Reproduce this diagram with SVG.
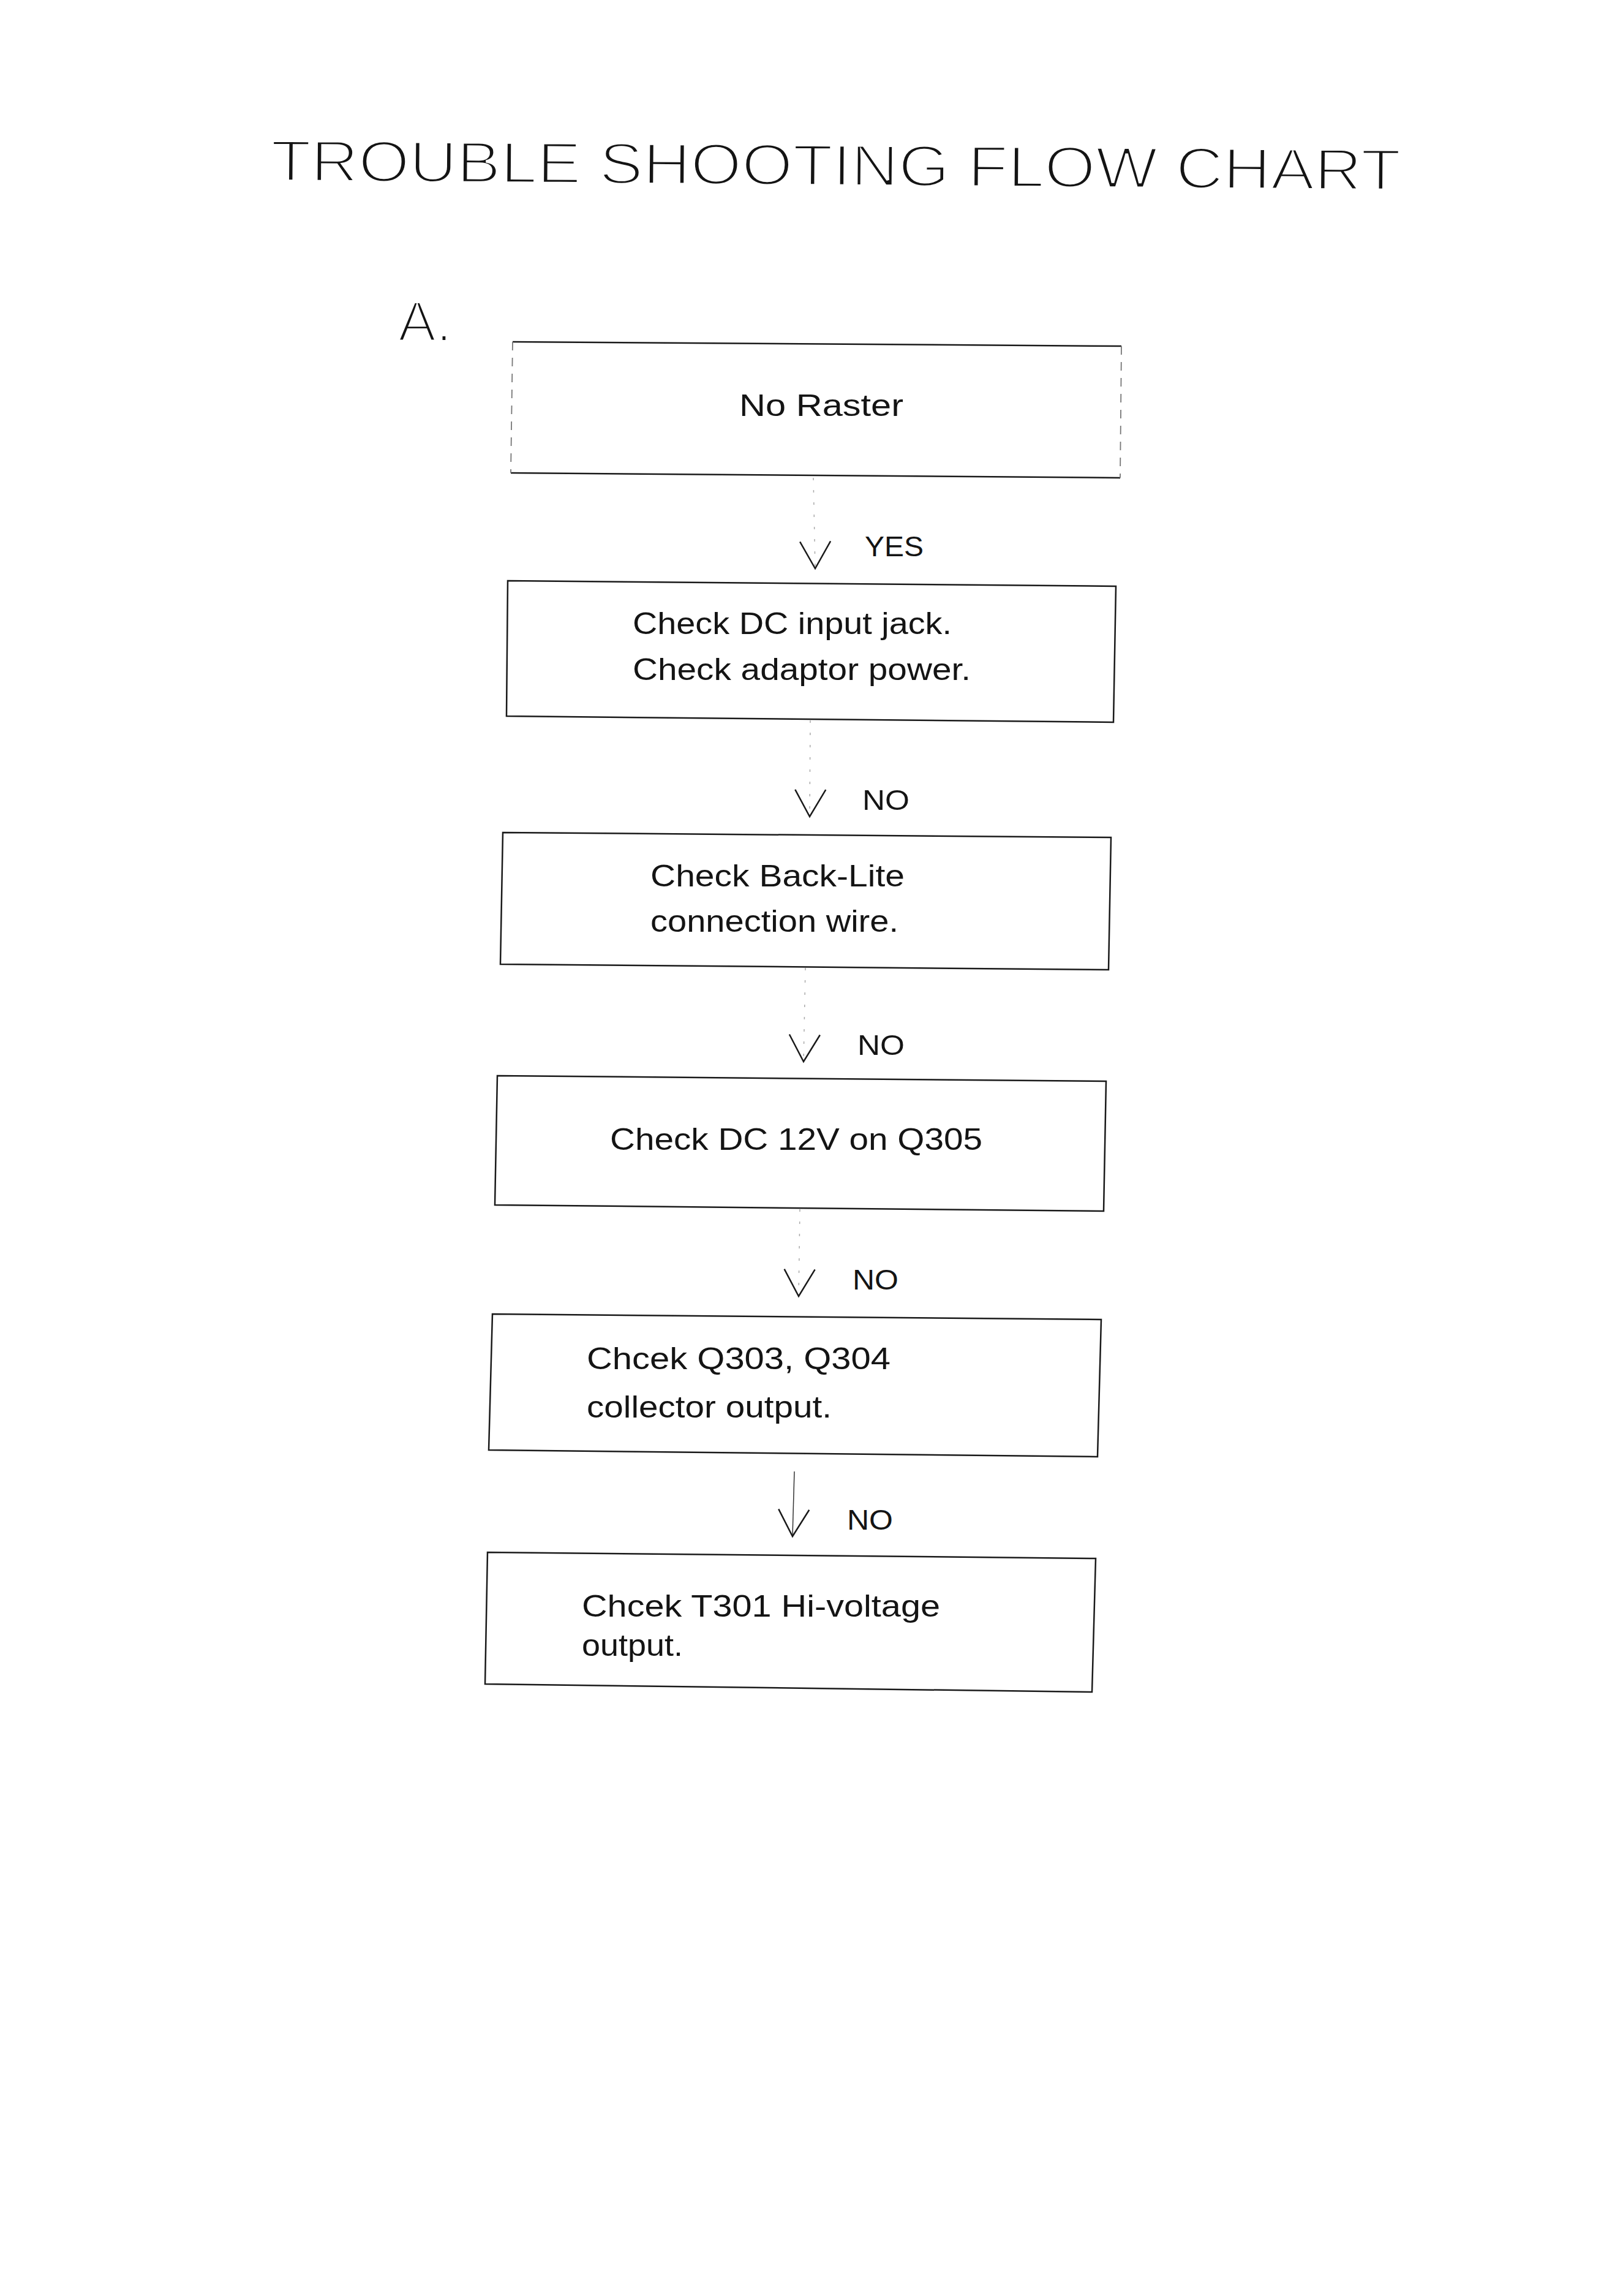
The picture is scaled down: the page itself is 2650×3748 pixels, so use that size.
<svg xmlns="http://www.w3.org/2000/svg" width="2650" height="3748" viewBox="0 0 2650 3748">
<style>
.t{font-family:"Liberation Sans",Arial,sans-serif;fill:#141414}
.thin{stroke:#fff;stroke-width:4}
.lbl{font-size:50px}
.edge{fill:none;stroke:#1a1a1a;stroke-width:2.5}
.faint{stroke:#777;stroke-width:1.8;stroke-dasharray:14 12}
.shaft{fill:none;stroke:#aaa;stroke-width:1.5;stroke-dasharray:4 16}
.shaft.solid{stroke:#333;stroke-dasharray:none}
</style>
<defs>
<marker id="vhead" markerUnits="userSpaceOnUse" markerWidth="60" markerHeight="60" viewBox="-50 -30 60 60" refX="0" refY="0" orient="auto" overflow="visible">
<path d="M-44,-26 L0,0 L-44,24" fill="none" stroke="#1a1a1a" stroke-width="2.5"/>
</marker>
</defs>
<rect width="2650" height="3748" fill="#fff"/>
<text class="t thin" x="442" y="295" font-size="95" textLength="1845" lengthAdjust="spacingAndGlyphs" transform="rotate(0.47 442 295)">TROUBLE SHOOTING FLOW CHART</text>
<text class="t thin" x="650" y="557" font-size="93">A.</text>
<g id="connectors">
<line class="shaft" x1="1328" y1="780" x2="1331" y2="928" marker-end="url(#vhead)"/>
<line class="shaft" x1="1323" y1="1176" x2="1322" y2="1333" marker-end="url(#vhead)"/>
<line class="shaft" x1="1315" y1="1580" x2="1312" y2="1733" marker-end="url(#vhead)"/>
<line class="shaft" x1="1306" y1="1974" x2="1304" y2="2116" marker-end="url(#vhead)"/>
<line class="shaft solid" x1="1297" y1="2402" x2="1294" y2="2508" marker-end="url(#vhead)"/>
<text class="t" x="1412" y="908" font-size="46" textLength="96" lengthAdjust="spacingAndGlyphs">YES</text>
<text class="t" x="1408" y="1322" font-size="46" textLength="77" lengthAdjust="spacingAndGlyphs">NO</text>
<text class="t" x="1400" y="1722" font-size="46" textLength="77" lengthAdjust="spacingAndGlyphs">NO</text>
<text class="t" x="1392" y="2105" font-size="46" textLength="75" lengthAdjust="spacingAndGlyphs">NO</text>
<text class="t" x="1383" y="2497" font-size="46" textLength="75" lengthAdjust="spacingAndGlyphs">NO</text>
</g>
<g id="node-no-raster">
<line class="edge" x1="837" y1="558" x2="1831" y2="565"/>
<line class="edge" x1="834" y1="772" x2="1829" y2="780"/>
<line class="edge faint" x1="837" y1="558" x2="834" y2="772"/>
<line class="edge faint" x1="1831" y1="565" x2="1829" y2="780"/>
<text class="t lbl" x="1207" y="679" textLength="268" lengthAdjust="spacingAndGlyphs">No Raster</text>
</g>
<g id="node-dc-input">
<polygon class="edge" points="829,948 1822,957 1818,1179 827,1169"/>
<text class="t lbl" x="1033" y="1035" textLength="521" lengthAdjust="spacingAndGlyphs">Check DC input jack.</text>
<text class="t lbl" x="1033" y="1110" textLength="552" lengthAdjust="spacingAndGlyphs">Check adaptor power.</text>
</g>
<g id="node-backlite">
<polygon class="edge" points="821,1359 1814,1367 1810,1583 817,1574"/>
<text class="t lbl" x="1062" y="1447" textLength="415" lengthAdjust="spacingAndGlyphs">Check Back-Lite</text>
<text class="t lbl" x="1062" y="1521" textLength="405" lengthAdjust="spacingAndGlyphs">connection wire.</text>
</g>
<g id="node-dc12v">
<polygon class="edge" points="812,1756 1806,1765 1802,1977 808,1967"/>
<text class="t lbl" x="996" y="1877" textLength="608" lengthAdjust="spacingAndGlyphs">Check DC 12V on Q305</text>
</g>
<g id="node-q303">
<polygon class="edge" points="804,2145 1798,2154 1792,2378 798,2367"/>
<text class="t lbl" x="958" y="2235" textLength="496" lengthAdjust="spacingAndGlyphs">Chcek Q303, Q304</text>
<text class="t lbl" x="958" y="2314" textLength="400" lengthAdjust="spacingAndGlyphs">collector output.</text>
</g>
<g id="node-t301">
<polygon class="edge" points="796,2534 1789,2544 1783,2762 792,2749"/>
<text class="t lbl" x="950" y="2639" textLength="585" lengthAdjust="spacingAndGlyphs">Chcek T301 Hi-voltage</text>
<text class="t lbl" x="950" y="2703" textLength="165" lengthAdjust="spacingAndGlyphs">output.</text>
</g>
</svg>
